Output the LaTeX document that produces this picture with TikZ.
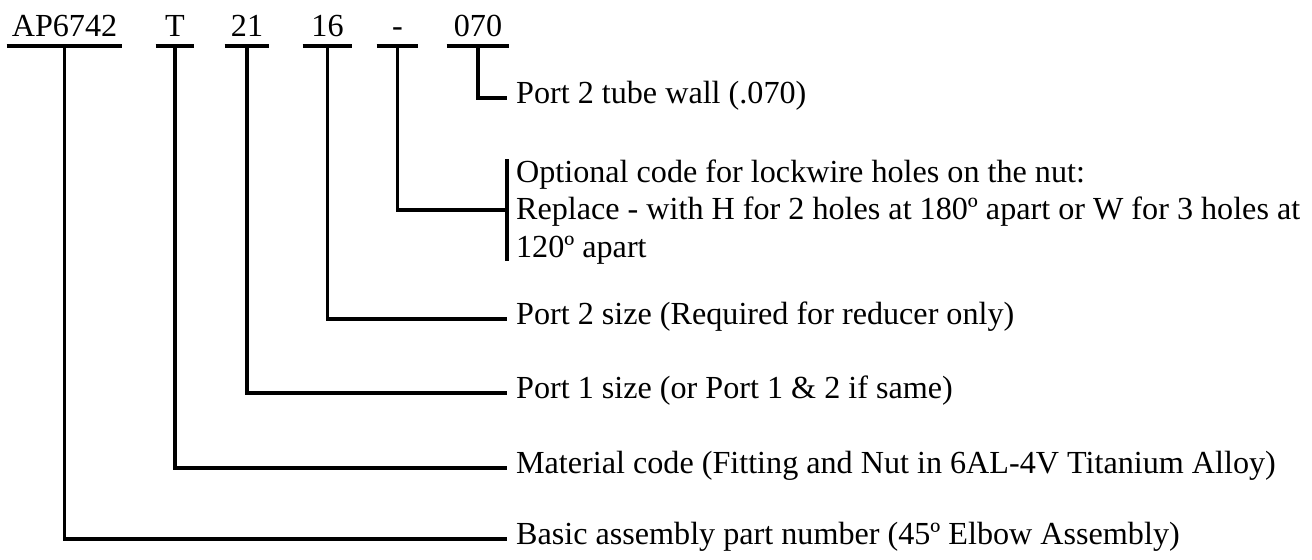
\documentclass[tikz,border=0pt]{standalone}
\usepackage{fontspec}
\setmainfont{Liberation Serif}
\usetikzlibrary{calc}

\tikzset{
    code/.style={anchor=base, inner xsep=0pt, inner ysep=5.1pt, text depth=0pt},
    desc/.style={anchor=west, inner xsep=5pt, inner ysep=0pt, text height=0.66em, text depth=0pt},
    lead/.style={line width=2.2pt}
}

\begin{document}
\begin{tikzpicture}[x=0.02cm, y=-0.02cm, every node/.style={font=\fontsize{18.3}{21.4}\selectfont}]
            \useasboundingbox (0,0) rectangle (1312,559);

            % part number fields
            \node[code, minimum width=115*0.569pt] (ap) at (64.5,36.5) {AP6742};
            \node[code, minimum width=38*0.569pt] (mat) at (175,36.5) {T};
            \node[code, minimum width=44*0.569pt] (pone) at (247,36.5) {21};
            \node[code, minimum width=49*0.569pt] (ptwo) at (327.5,36.5) {16};
            \node[code, minimum width=41*0.569pt] (dash) at (397.5,36.5) {-};
            \node[code, minimum width=62*0.569pt] (wall) at (478,36.5) {070};

            \foreach \n in {ap,mat,pone,ptwo,dash,wall}
                \draw[lead] (\n.south west) -- (\n.south east);

            % descriptions
            \node[desc] (wallt) at (507,98) {Port 2 tube wall (.070)};
            \node[desc, text height=, text depth=, align=left] (dasht) at (507,212) {Optional code for lockwire holes on the nut:\\Replace - with H for 2 holes at 180º apart or W for 3 holes at\\120º apart};
            \node[desc] (ptwot) at (507,319) {Port 2 size (Required for reducer only)};
            \node[desc] (ponet) at (507,393) {Port 1 size (or Port 1 \& 2 if same)};
            \node[desc] (matt) at (507,468) {Material code (Fitting and Nut in 6AL-4V Titanium Alloy)};
            \node[desc] (apt) at (507,539) {Basic assembly part number (45º Elbow Assembly)};

            \draw[lead] (wall.south) |- (wallt.west);
            \draw[lead] (dash.south) |- (507,210);
            \draw[lead] (507,159) -- (507,261);
            \draw[lead] (ptwo.south) |- (ptwot.west);
            \draw[lead] (pone.south) |- (ponet.west);
            \draw[lead] (mat.south) |- (matt.west);
            \draw[lead] (ap.south) |- (apt.west);
        \end{tikzpicture}
\end{document}
